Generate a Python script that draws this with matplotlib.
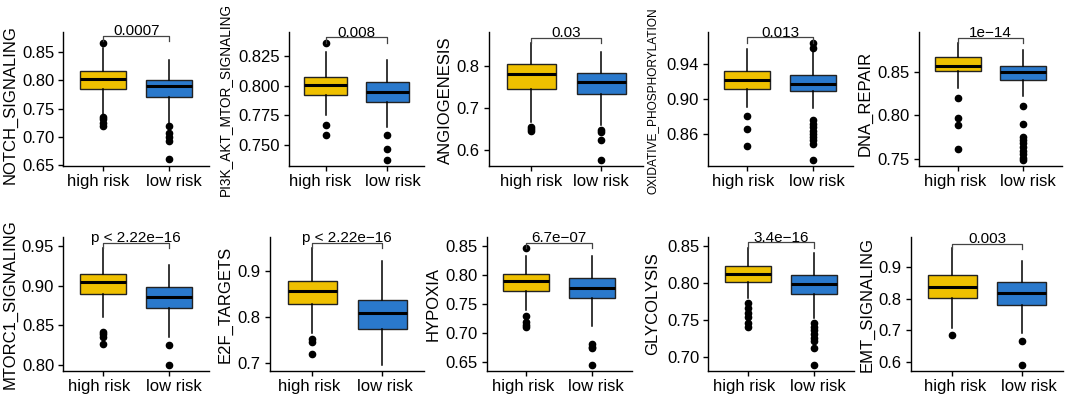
import matplotlib
matplotlib.use("Agg")
import matplotlib.pyplot as plt
from matplotlib.transforms import ScaledTranslation

plt.rcParams['font.family'] = ['Liberation Sans', 'DejaVu Sans']

groups = ["high risk", "low risk"]
colors = ["#EFC000", "#2A79CC"]

titles = ["NOTCH_SIGNALING", "PI3K_AKT_MTOR_SIGNALING", "ANGIOGENESIS",
          "OXIDATIVE_PHOSPHORYLATION", "DNA_REPAIR",
          "MTORC1_SIGNALING", "E2F_TARGETS", "HYPOXIA", "GLYCOLYSIS", "EMT_SIGNALING"]
pvalues = ["0.0007", "0.008", "0.03", "0.013", "1e\u221214",
           "p < 2.22e\u221216", "p < 2.22e\u221216", "6.7e\u221207", "3.4e\u221216", "0.003"]

# box stats per panel: [whislo, q1, med, q3, whishi] for high risk, low risk
high_stats = [
    [0.739, 0.785, 0.803, 0.817, 0.858],
    [0.7755, 0.792, 0.8005, 0.807, 0.828],
    [0.667, 0.746, 0.781, 0.805, 0.855],
    [0.8915, 0.912, 0.9217, 0.9323, 0.957],
    [0.831, 0.8504, 0.857, 0.8665, 0.8825],
    [0.8608, 0.8896, 0.904, 0.914, 0.9467],
    [0.764, 0.8284, 0.8575, 0.8794, 0.952],
    [0.739, 0.7719, 0.7897, 0.8012, 0.8328],
    [0.7797, 0.8022, 0.813, 0.823, 0.8473],
    [0.706, 0.8009, 0.8357, 0.8737, 0.959],
]
low_stats = [
    [0.725, 0.770, 0.790, 0.8005, 0.836],
    [0.7652, 0.7866, 0.795, 0.8027, 0.821],
    [0.659, 0.733, 0.763, 0.784, 0.835],
    [0.8897, 0.909, 0.9175, 0.9274, 0.955],
    [0.8226, 0.840, 0.850, 0.857, 0.875],
    [0.835, 0.8712, 0.8858, 0.8984, 0.9257],
    [0.695, 0.7735, 0.808, 0.8378, 0.9225],
    [0.7121, 0.7603, 0.7776, 0.7943, 0.8324],
    [0.7527, 0.786, 0.7986, 0.8108, 0.8405],
    [0.69, 0.7796, 0.8186, 0.8525, 0.92],
]
high_outliers = [
    [0.866, 0.736, 0.731, 0.725, 0.719],
    [0.8356, 0.767, 0.759],
    [0.655, 0.649, 0.644],
    [0.881, 0.866, 0.846],
    [0.820, 0.797, 0.789, 0.7615],
    [0.842, 0.8385, 0.8356, 0.8263],
    [0.7517, 0.746, 0.719],
    [0.8455, 0.7293, 0.718, 0.7133, 0.709],
    [0.773, 0.7662, 0.7595, 0.755, 0.746, 0.7414],
    [0.6846],
]
low_outliers = [
    [0.719, 0.707, 0.700, 0.693, 0.660],
    [0.7585, 0.747, 0.738],
    [0.647, 0.643, 0.623, 0.575],
    [0.964, 0.958, 0.876, 0.872, 0.868, 0.864, 0.860, 0.857, 0.853, 0.849, 0.831],
    [0.8106, 0.790, 0.7755, 0.772, 0.768, 0.763, 0.759, 0.755, 0.751, 0.748],
    [0.8254, 0.800],
    [],
    [0.680, 0.676, 0.673, 0.644],
    [0.746, 0.7414, 0.737, 0.731, 0.7257, 0.722, 0.712, 0.6896],
    [0.6665, 0.5905],
]
bracket_y = [0.8788, 0.8403, 0.8687, 0.9704, 0.889, 0.9538, 0.9627, 0.855, 0.855, 0.9729]
yticks = [
    [0.65, 0.70, 0.75, 0.80, 0.85],
    [0.750, 0.775, 0.800, 0.825],
    [0.6, 0.7, 0.8],
    [0.86, 0.90, 0.94],
    [0.75, 0.80, 0.85],
    [0.80, 0.85, 0.90, 0.95],
    [0.7, 0.8, 0.9],
    [0.65, 0.70, 0.75, 0.80, 0.85],
    [0.70, 0.75, 0.80, 0.85],
    [0.6, 0.7, 0.8, 0.9],
]
tick_fmt = ["%.2f", "%.3f", "%.1f", "%.2f", "%.2f", "%.2f", "%.1f", "%.2f", "%.2f", "%.1f"]
ylims = [(0.649, 0.886), (0.733, 0.845), (0.5616, 0.883), (0.824, 0.977), (0.742, 0.896),
         (0.793, 0.9606), (0.6825, 0.9745), (0.6345, 0.8645), (0.682, 0.862), (0.5715, 0.994)]

# layout in pixels: (left, right, top, bottom, ylabel_center_x, ylabel_center_y, ylabel_size)
W, H = 1065, 396
layout = [
    (63.3, 209, 31.7, 165.7, 10, 105, 12),
    (289, 424, 31.7, 165.7, 225, 99, 9.8),
    (489, 643, 31.7, 165.7, 445, 100, 12),
    (707.7, 853, 31.7, 165.7, 653, 101, 8.6),
    (919, 1062, 31.7, 165.7, 865, 103, 12),
    (63.3, 209, 237.3, 370.7, 10, 304, 12),
    (270, 424, 237.3, 370.7, 225, 304, 12),
    (486.7, 632, 237.3, 370.7, 433, 304, 12),
    (708.3, 853.5, 237.3, 370.7, 653, 304, 12),
    (911, 1063, 237.3, 370.7, 867, 304, 12),
]
# horizontal nudges (px) of the x tick labels, as placed in the reference
xlab_shift = [(-4.5, 4.3), (-6, 6), (0, 0), (-4, 4), (-3, 4.5),
              (-4, 5), (-2.5, 2.7), (-3.5, 4), (-4, 4), (2.5, 7)]

fig = plt.figure(figsize=(W / 100, H / 100), dpi=100)

for i in range(10):
    l, r, t, b, lx, ly, lsize = layout[i]
    ax = fig.add_axes([l / W, 1 - b / H, (r - l) / W, (b - t) / H])
    stats = []
    for st, fl, lab in ((high_stats[i], high_outliers[i], groups[0]),
                        (low_stats[i], low_outliers[i], groups[1])):
        stats.append(dict(whislo=st[0], q1=st[1], med=st[2], q3=st[3], whishi=st[4],
                          fliers=fl, label=lab))
    bp = ax.bxp(stats, positions=[1, 2], widths=0.7, patch_artist=True,
                showfliers=True,
                boxprops=dict(linewidth=1.0, edgecolor="#222222"),
                medianprops=dict(color="black", linewidth=2.2),
                whiskerprops=dict(color="black", linewidth=1.1),
                capprops=dict(linewidth=0),
                flierprops=dict(marker="o", markerfacecolor="black", markeredgecolor="black",
                                markersize=4.5, linestyle="none"))
    for patch, c in zip(bp["boxes"], colors):
        patch.set_facecolor(c)
    for cap in bp["caps"]:
        cap.set_visible(False)

    ax.set_xlim(0.4, 2.6)
    ax.set_ylim(*ylims[i])
    ax.set_yticks(yticks[i])
    ax.set_yticklabels([tick_fmt[i] % v for v in yticks[i]])
    ax.set_xticks([1, 2])
    ax.set_xticklabels(groups)
    for s in ("top", "right"):
        ax.spines[s].set_visible(False)
    for s in ("left", "bottom"):
        ax.spines[s].set_linewidth(1.0)
    ax.tick_params(axis="both", labelsize=12, length=3.6, width=1.0, colors="black",
                   labelcolor="black")
    ax.tick_params(axis="x", pad=2.5)
    ax.tick_params(axis="y", pad=3)
    for lab, dx in zip(ax.get_xticklabels(), xlab_shift[i]):
        lab.set_transform(lab.get_transform() + ScaledTranslation(dx / 100, 0, fig.dpi_scale_trans))
    fig.text(lx / W, 1 - ly / H, titles[i], rotation=90, ha="center", va="center",
             fontsize=lsize)

    # significance bracket
    yr = ylims[i][1] - ylims[i][0]
    by = bracket_y[i]
    tip = 0.04 * yr
    ax.plot([1, 1, 2, 2], [by - tip, by, by, by - tip], color="#444444", linewidth=0.9,
            clip_on=False)
    ax.text(1.5, by + 0.004 * yr, pvalues[i], ha="center", va="baseline", fontsize=11,
            clip_on=False)

fig.savefig("out.png", dpi=100)
